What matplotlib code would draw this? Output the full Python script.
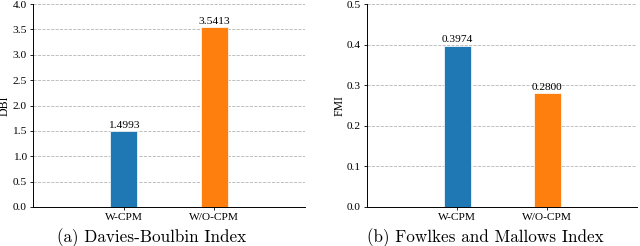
import matplotlib.pyplot as plt

methods = ['W-CPM', 'W/O-CPM']
dbi = [1.4993, 3.5413]
fmi = [0.3974, 0.2800]
colors = ['#1f77b4', '#ff7f0e']

plt.rcParams['font.family'] = 'Liberation Serif'

fig = plt.figure(figsize=(6.4, 2.46), dpi=100)
ax1 = fig.add_axes([33/640, 39/246, 272/640, 203/246])
ax2 = fig.add_axes([367/640, 39/246, 270/640, 203/246])

def draw(ax, vals, ylim, step, ylabel, label_x):
    x = [0, 1]
    bars = ax.bar(x, vals, width=0.3, color=colors, edgecolor='white', linewidth=0.5, zorder=3)
    for b, v in zip(bars, vals):
        ax.text(b.get_x() + b.get_width()/2, v + ylim*0.006, '%.4f' % v,
                ha='center', va='bottom', fontsize=8.2)
    ax.set_xlim(-1, 2)
    ax.set_ylim(0, ylim)
    ticks = [round(i*step, 2) for i in range(int(round(ylim/step)) + 1)]
    ax.set_yticks(ticks)
    ax.set_yticklabels(['%.1f' % t for t in ticks])
    ax.set_xticks(x)
    ax.set_xticklabels(methods)
    ax.tick_params(labelsize=8.2, length=2.5, width=0.6, pad=2)
    ax.set_ylabel(ylabel, fontsize=8.5, va='center')
    ax.yaxis.set_label_coords(label_x, 0.5)
    ax.grid(axis='y', ls='--', color='#b4b4b4', lw=0.6, zorder=0)
    ax.spines['top'].set_visible(False)
    ax.spines['right'].set_visible(False)
    for s in ('left', 'bottom'):
        ax.spines[s].set_linewidth(0.7)

draw(ax1, dbi, 4.0, 0.5, 'DBI', -28/272)
draw(ax2, fmi, 0.5, 0.1, 'FMI', -27/270)

fig.text(152/640, 8/246, '(a) Davies-Boulbin Index', fontfamily='cmr10', fontsize=12.3, ha='center', va='center')
fig.text(485/640, 8/246, '(b) Fowlkes and Mallows Index', fontfamily='cmr10', fontsize=12.3, ha='center', va='center')

fig.savefig('out.png', dpi=100)
